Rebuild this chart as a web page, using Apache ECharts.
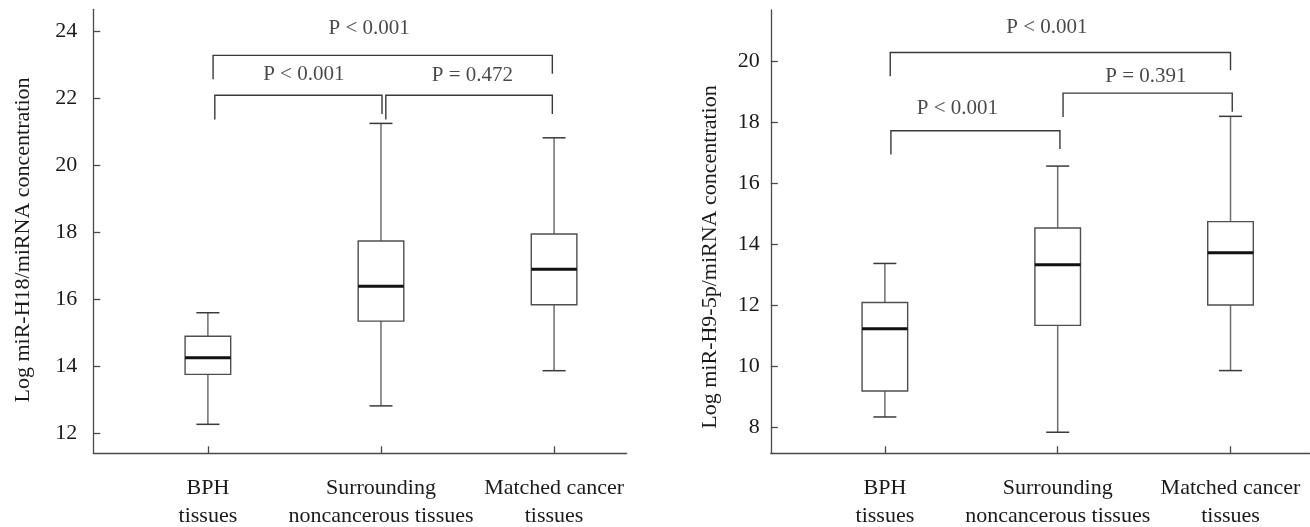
<!DOCTYPE html>
<html>
<head>
<meta charset="utf-8">
<script src="https://cdn.jsdelivr.net/npm/echarts@6/dist/echarts.min.js"></script>
<style>
html,body{margin:0;padding:0;background:#fff;}
#chart{width:1310px;height:527px;}
</style>
</head>
<body>
<div id="chart"></div>
<script>
// ---- data ----
const categories = ['BPH\ntissues', 'Surrounding\nnoncancerous tissues', 'Matched cancer\ntissues'];
const categoryPos = [0, 1, 2];

// Left panel: Log miR-H18/miRNA concentration
const h18Min    = [12.26, 12.81, 13.86];
const h18Q1     = [13.75, 15.34, 15.83];
const h18Median = [14.25, 16.38, 16.89];
const h18Q3     = [14.89, 17.73, 17.94];
const h18Max    = [15.59, 21.24, 20.81];
const h18Ticks  = [12, 14, 16, 18, 20, 22, 24];
// brackets: [x start, x end, y of bar, y of left end, y of right end]
const h18Brackets = [
  [0.03, 1.99, 23.27, 22.56, 22.72],
  [0.04, 1.006, 22.08, 21.36, 21.52],
  [1.028, 1.99, 22.08, 21.36, 21.52]
];
const h18PText = ['P < 0.001', 'P < 0.001', 'P = 0.472'];
const h18PPos  = [[0.932, 24.07], [0.554, 22.71], [1.528, 22.66]];

// Right panel: Log miR-H9-5p/miRNA concentration
const h9Min    = [8.34, 7.84, 9.86];
const h9Q1     = [9.19, 11.34, 12.01];
const h9Median = [11.23, 13.33, 13.72];
const h9Q3     = [12.09, 14.53, 14.74];
const h9Max    = [13.37, 16.56, 18.19];
const h9Ticks  = [8, 10, 12, 14, 16, 18, 20];
const h9Brackets = [
  [0.031, 2.0, 20.28, 19.5, 19.7],
  [0.035, 1.013, 17.72, 16.94, 17.12],
  [1.031, 2.01, 18.95, 18.17, 18.34]
];
const h9PText = ['P < 0.001', 'P = 0.391', 'P < 0.001'];
const h9PPos  = [[0.938, 21.09], [1.51, 19.49], [0.42, 18.45]];

const yTitles = ['Log miR-H18/miRNA concentration', 'Log miR-H9-5p/miRNA concentration'];

// ---- styling ----
const FONT = '"Liberation Serif", "Times New Roman", serif';
const TXT = '#1a1a1a';
const AXIS = '#4a4a4a';

function boxData(mn, q1, md, q3, mx) {
  return categoryPos.map((p, i) => [p, mn[i], q1[i], md[i], q3[i], mx[i]]);
}

function renderBox(params, api) {
  const x = api.value(0);
  const pMin = api.coord([x, api.value(1)]);
  const pQ1 = api.coord([x, api.value(2)]);
  const pMed = api.coord([x, api.value(3)]);
  const pQ3 = api.coord([x, api.value(4)]);
  const pMax = api.coord([x, api.value(5)]);
  const hb = 22.8, hc = 11.5, cx = pMin[0];
  const wStyle = { stroke: '#6e6e6e', lineWidth: 1.5 };
  const cStyle = { stroke: '#3a3a3a', lineWidth: 1.5 };
  return {
    type: 'group',
    children: [
      { type: 'line', shape: { x1: cx, y1: pMax[1], x2: cx, y2: pQ3[1] }, style: wStyle },
      { type: 'line', shape: { x1: cx, y1: pQ1[1], x2: cx, y2: pMin[1] }, style: wStyle },
      { type: 'line', shape: { x1: cx - hc, y1: pMax[1], x2: cx + hc, y2: pMax[1] }, style: cStyle },
      { type: 'line', shape: { x1: cx - hc, y1: pMin[1], x2: cx + hc, y2: pMin[1] }, style: cStyle },
      { type: 'rect', shape: { x: cx - hb, y: pQ3[1], width: 2 * hb, height: pQ1[1] - pQ3[1] },
        style: { fill: '#fff', stroke: '#4f4f4f', lineWidth: 1.4 } },
      { type: 'line', shape: { x1: cx - hb, y1: pMed[1], x2: cx + hb, y2: pMed[1] },
        style: { stroke: '#111', lineWidth: 3 } }
    ]
  };
}

function renderBracket(params, api) {
  const x1 = api.value(0), x2 = api.value(1);
  const a = api.coord([x1, api.value(3)]);
  const b = api.coord([x1, api.value(2)]);
  const c = api.coord([x2, api.value(2)]);
  const d = api.coord([x2, api.value(4)]);
  return {
    type: 'polyline',
    shape: { points: [a, b, c, d] },
    style: { stroke: '#3a3a3a', lineWidth: 1.4, fill: null }
  };
}

function xAxisDef(idx, min, max) {
  return {
    type: 'value', gridIndex: idx, min: min, max: max,
    axisLine: { show: true, onZero: false, lineStyle: { color: AXIS, width: 1.3 } },
    axisTick: { show: true, inside: true, length: 7, customValues: categoryPos, lineStyle: { color: AXIS, width: 1.3 } },
    axisLabel: {
      show: true, customValues: categoryPos, margin: 21,
      formatter: v => categories[Math.round(v)],
      fontFamily: FONT, fontSize: 22, color: TXT, lineHeight: 28
    },
    splitLine: { show: false }
  };
}

function yAxisDef(idx, min, max, ticks, margin) {
  return {
    type: 'value', gridIndex: idx, min: min, max: max,
    axisLine: { show: true, onZero: false, lineStyle: { color: AXIS, width: 1.3 } },
    axisTick: { show: true, inside: true, length: 7, customValues: ticks, lineStyle: { color: AXIS, width: 1.3 } },
    axisLabel: { show: true, customValues: ticks, margin: margin, fontFamily: FONT, fontSize: 22, color: TXT },
    splitLine: { show: false }
  };
}

function pSeries(idx, texts, pos) {
  return {
    type: 'scatter', xAxisIndex: idx, yAxisIndex: idx, symbolSize: 0, silent: true,
    data: texts.map((t, i) => ({ name: t, value: pos[i] })),
    label: { show: true, position: 'inside', formatter: '{b}', fontFamily: FONT, fontSize: 21, color: TXT }
  };
}

const chart = echarts.init(document.getElementById('chart'), null, { renderer: 'canvas' });
chart.setOption({
  animation: false,
  backgroundColor: '#fff',
  grid: [
    { left: 93.3, right: 683.4, top: 9.3, bottom: 73.7, containLabel: false, outerBoundsMode: 'none' },
    { left: 770.8, right: 0.5, top: 10, bottom: 73.7, containLabel: false, outerBoundsMode: 'none' }
  ],
  xAxis: [xAxisDef(0, -0.662, 2.419), xAxisDef(1, -0.660, 2.457)],
  yAxis: [yAxisDef(0, 11.395, 24.645, h18Ticks, 16), yAxisDef(1, 7.15, 21.674, h9Ticks, 11)],
  graphic: [
    { type: 'text', x: 23, y: 240, rotation: Math.PI / 2,
      style: { text: yTitles[0], font: '22px ' + FONT, fill: TXT, align: 'center', verticalAlign: 'middle' } },
    { type: 'text', x: 710, y: 257, rotation: Math.PI / 2,
      style: { text: yTitles[1], font: '22px ' + FONT, fill: TXT, align: 'center', verticalAlign: 'middle' } }
  ],
  series: [
    { type: 'custom', xAxisIndex: 0, yAxisIndex: 0, renderItem: renderBox,
      data: boxData(h18Min, h18Q1, h18Median, h18Q3, h18Max), encode: { x: 0, y: [1, 2, 3, 4, 5] } },
    { type: 'custom', xAxisIndex: 0, yAxisIndex: 0, renderItem: renderBracket,
      data: h18Brackets, encode: { x: [0, 1], y: [2, 3, 4] } },
    pSeries(0, h18PText, h18PPos),
    { type: 'custom', xAxisIndex: 1, yAxisIndex: 1, renderItem: renderBox,
      data: boxData(h9Min, h9Q1, h9Median, h9Q3, h9Max), encode: { x: 0, y: [1, 2, 3, 4, 5] } },
    { type: 'custom', xAxisIndex: 1, yAxisIndex: 1, renderItem: renderBracket,
      data: h9Brackets, encode: { x: [0, 1], y: [2, 3, 4] } },
    pSeries(1, h9PText, h9PPos)
  ]
});
</script>
</body>
</html>
